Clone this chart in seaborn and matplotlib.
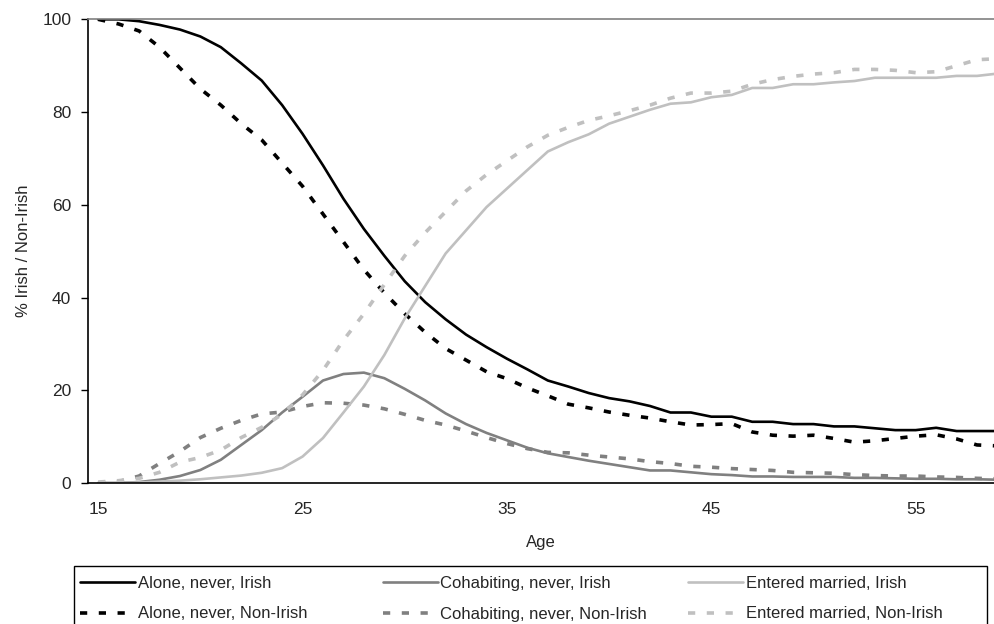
import matplotlib
matplotlib.use("Agg")
import matplotlib.pyplot as plt
import seaborn as sns
import numpy as np
from matplotlib.ticker import FixedLocator
from matplotlib.patches import Rectangle

ages = list(range(15, 60))

alone_irish = [100, 100, 99.6, 98.8, 97.8, 96.3, 94.0, 90.5, 86.8, 81.5,
               75.3, 68.5, 61.3, 54.8, 49.0, 43.5, 39.0, 35.3, 32.0, 29.3,
               26.8, 24.5, 22.1, 20.8, 19.4, 18.3, 17.6, 16.6, 15.2, 15.2,
               14.3, 14.3, 13.2, 13.2, 12.7, 12.7, 12.2, 12.2, 11.8, 11.4,
               11.4, 11.9, 11.2, 11.2, 11.2]
alone_nonirish = [100, 99.0, 97.5, 94.0, 89.5, 85.0, 81.5, 77.5, 74.0, 69.0,
                  64.0, 58.0, 52.0, 46.0, 41.0, 36.5, 32.5, 29.0, 26.5, 24.0,
                  22.5, 20.5, 18.8, 17.0, 16.2, 15.3, 14.6, 14.0, 13.2, 12.5,
                  12.6, 12.8, 11.0, 10.3, 10.1, 10.3, 9.6, 8.8, 9.1, 9.6,
                  10.1, 10.4, 9.5, 8.2, 8.0]
cohab_irish = [0, 0, 0.2, 0.7, 1.5, 2.8, 5.0, 8.2, 11.4, 15.2,
               18.6, 22.1, 23.5, 23.8, 22.6, 20.3, 17.8, 15.0, 12.7, 10.8,
               9.2, 7.6, 6.4, 5.6, 4.8, 4.1, 3.4, 2.7, 2.7, 2.3,
               1.9, 1.7, 1.4, 1.4, 1.3, 1.3, 1.3, 1.1, 1.1, 1.0,
               0.9, 0.9, 0.8, 0.8, 0.7]
cohab_nonirish = [0, 0.3, 1.5, 4.2, 6.8, 9.8, 11.8, 13.5, 14.9, 15.3,
                  16.5, 17.3, 17.2, 16.8, 16.0, 14.8, 13.5, 12.5, 11.2, 9.8,
                  8.5, 7.4, 6.6, 6.5, 6.0, 5.6, 5.2, 4.6, 4.2, 3.6,
                  3.4, 3.1, 2.9, 2.7, 2.3, 2.2, 2.1, 1.8, 1.6, 1.5,
                  1.5, 1.3, 1.2, 1.0, 0.9]
married_irish = [0, 0, 0.1, 0.3, 0.5, 0.8, 1.2, 1.6, 2.2, 3.2,
                 5.7, 9.7, 15.2, 20.8, 27.6, 35.5, 42.5, 49.5, 54.5, 59.5,
                 63.5, 67.5, 71.5, 73.5, 75.2, 77.5, 79.0, 80.5, 81.8, 82.1,
                 83.2, 83.7, 85.2, 85.2, 86.0, 86.0, 86.4, 86.7, 87.4, 87.4,
                 87.4, 87.4, 87.8, 87.8, 88.3]
married_nonirish = [0.2, 0.5, 1.0, 2.3, 4.5, 5.5, 7.1, 9.8, 12.0, 14.8,
                    19.0, 24.3, 30.8, 36.5, 42.8, 49.0, 54.0, 58.5, 63.0, 66.5,
                    69.5, 72.5, 75.0, 76.7, 78.2, 79.2, 80.3, 81.5, 83.0, 84.1,
                    84.1, 84.5, 86.0, 87.0, 87.7, 88.2, 88.5, 89.2, 89.2, 89.0,
                    88.5, 88.7, 90.0, 91.3, 91.5]

series_names = ["Alone, never, Irish", "Alone, never, Non-Irish",
                "Cohabiting, never, Irish", "Cohabiting, never, Non-Irish",
                "Entered married, Irish", "Entered married, Non-Irish"]
series_values = [alone_irish, alone_nonirish, cohab_irish, cohab_nonirish,
                 married_irish, married_nonirish]
series_colors = ["#000000", "#000000", "#808080", "#808080", "#c0c0c0", "#c0c0c0"]

sns.set_style("white")
plt.rcParams["font.family"] = ["Liberation Sans", "DejaVu Sans"]
plt.rcParams["font.size"] = 12

W, H = 994, 624
fig = plt.figure(figsize=(W / 100, H / 100), dpi=100)
ax = fig.add_axes([0.0885, 0.226, 0.9115, 0.743])

for name, vals, col in zip(series_names, series_values, series_colors):
    if "Non-Irish" in name:
        sns.lineplot(x=ages, y=vals, ax=ax, color=col, label=name,
                     linewidth=2.6, linestyle=(0, (2.0, 3.2)))
    else:
        sns.lineplot(x=ages, y=vals, ax=ax, color=col, label=name, linewidth=1.9)

ax.set_xlim(14.5, 58.83)
ax.set_ylim(0, 100)
ax.set_yticks([0, 20, 40, 60, 80, 100])
ax.set_xticks([15, 25, 35, 45, 55])
ax.xaxis.set_minor_locator(FixedLocator(np.arange(14.5, 59.6, 1)))
ax.tick_params(axis="x", which="major", length=0, pad=14, labelsize=12.5)
ax.tick_params(axis="x", which="minor", length=5, width=1, color="black", direction="out")
ax.tick_params(axis="y", which="major", length=5, width=1, color="black", direction="out",
               left=True, labelsize=12.5, pad=7)

for side in ["left", "bottom"]:
    ax.spines[side].set_color("black")
    ax.spines[side].set_linewidth(1.2)
ax.spines["top"].set_color("#808080")
ax.spines["top"].set_linewidth(1.2)
ax.spines["right"].set_visible(False)

ax.set_xlabel("Age", fontsize=12, labelpad=13)
ax.set_ylabel("% Irish / Non-Irish", fontsize=12, labelpad=8)

# legend: three equal-width columns inside one box
handles, labels = ax.get_legend_handles_labels()
ax.get_legend().remove()
col_x = [70, 373, 678]
for i, x0 in enumerate(col_x):
    fig.legend(handles[2 * i:2 * i + 2], labels[2 * i:2 * i + 2], loc="upper left",
               bbox_to_anchor=(x0 / W, 1 - 566 / H), frameon=False, fontsize=12,
               handlelength=3.3, handletextpad=0.15, labelspacing=0.93,
               borderpad=0.6, borderaxespad=0)
fig.patches.append(Rectangle((74 / W, -0.05), (987 - 74) / W, 0.05 + (H - 566) / H,
                             transform=fig.transFigure, fill=False,
                             edgecolor="black", linewidth=1.0))

fig.savefig("out.png", dpi=100)
